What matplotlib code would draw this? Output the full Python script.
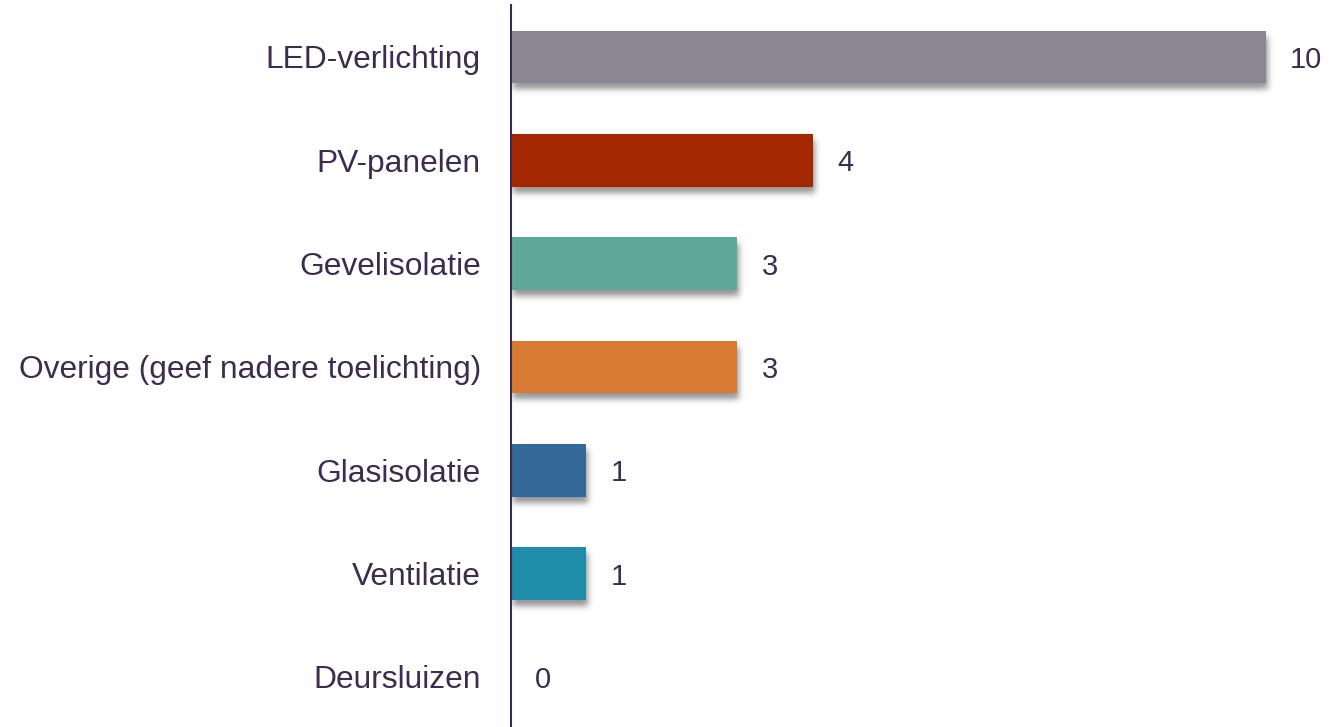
import matplotlib
matplotlib.use("Agg")
import numpy as np
import matplotlib.pyplot as plt

categories = [
    "LED-verlichting",
    "PV-panelen",
    "Gevelisolatie",
    "Overige (geef nadere toelichting)",
    "Glasisolatie",
    "Ventilatie",
    "Deursluizen",
]
values = [10, 4, 3, 3, 1, 1, 0]
colors = ["#8a8790", "#a32800", "#5fa898", "#d67b31", "#336898", "#1f8caa", "#8a8790"]

text_color = "#3b2c50"
plt.rcParams["font.family"] = ["Liberation Sans", "DejaVu Sans"]

fig = plt.figure(figsize=(13.3, 7.27), dpi=100)
W, H = 1330, 727
ax = fig.add_axes([511 / W, 0, (1326 - 511) / W, (727 - 5) / H])
XLIM = (0, 10.8)
YLIM = (6.484, -0.503)

ypos = list(range(len(categories)))
bars = ax.barh(ypos, values, height=0.51, color=colors, zorder=2)
ax.set_xlim(*XLIM)
ax.set_ylim(*YLIM)


def gaussian_blur(a, sigma):
    r = int(3 * sigma)
    k = np.exp(-0.5 * (np.arange(-r, r + 1) / sigma) ** 2)
    k /= k.sum()
    a = np.apply_along_axis(lambda v: np.convolve(v, k, mode="same"), 0, a)
    a = np.apply_along_axis(lambda v: np.convolve(v, k, mode="same"), 1, a)
    return a


# soft drop shadow under each bar, rendered in axes pixel space
fig.canvas.draw()
abox = ax.bbox
aw, ah = int(round(abox.width)), int(round(abox.height))
mask = np.zeros((ah, aw))
shift_x, shift_y = 2.0, 6.0  # pixels right / down
for b in bars:
    if b.get_width() <= 0:
        continue
    e = b.get_window_extent()
    x0 = int(round(e.x0 - abox.x0 + shift_x))
    x1 = int(round(e.x1 - abox.x0 + shift_x))
    y0 = int(round(e.y0 - abox.y0 - shift_y))
    y1 = int(round(e.y1 - abox.y0 - shift_y))
    mask[max(y0, 0):y1, max(x0, 0):x1] = 1.0
mask = gaussian_blur(mask, 3.0)
rgba = np.zeros((ah, aw, 4))
rgba[..., :3] = 0.25
rgba[..., 3] = 0.55 * mask
ax.imshow(rgba, origin="lower", extent=(0, 1, 0, 1), transform=ax.transAxes,
          aspect="auto", interpolation="nearest", zorder=1)
ax.set_xlim(*XLIM)
ax.set_ylim(*YLIM)

for y, v in zip(ypos, values):
    ax.annotate(str(v), xy=(v, y), xytext=(17.3, 0), textcoords="offset points",
                ha="left", va="center_baseline", fontsize=21, color=text_color)

ax.set_yticks(ypos)
ax.set_yticklabels(categories, fontsize=22.9, color=text_color)
ax.tick_params(axis="y", length=0, pad=21.6)
ax.set_xticks([])
for s in ("top", "right", "bottom"):
    ax.spines[s].set_visible(False)
ax.spines["left"].set_color(text_color)
ax.spines["left"].set_linewidth(1.5)
ax.spines["left"].set_zorder(3)

fig.savefig("out.png", dpi=100)
